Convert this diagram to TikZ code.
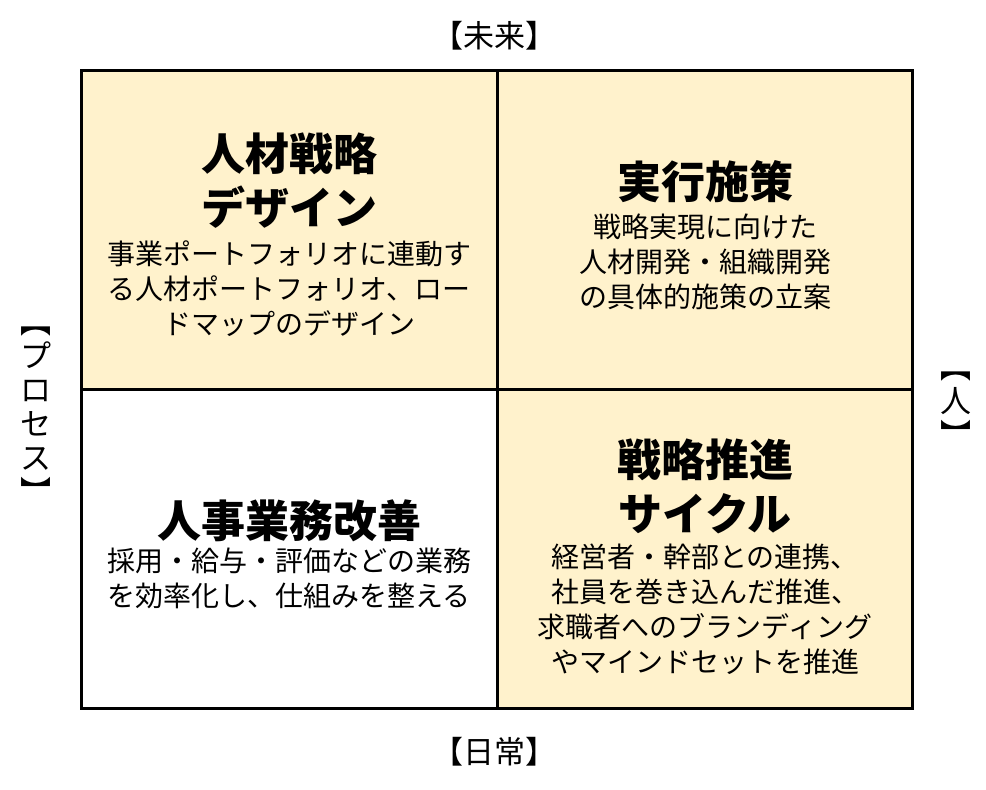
\documentclass[tikz,border=0pt]{standalone}
\usepackage{fontspec}
\setmainfont{Noto Sans CJK JP}
\definecolor{cellfill}{HTML}{FFF2CC}
\tikzset{
  cellbox/.style={fill=cellfill},
  grid/.style={line width=3pt},
  ttl/.style={font=\bfseries\fontsize{44}{54}\selectfont, align=center, inner sep=0pt},
  body/.style={font=\fontsize{28}{35}\selectfont, align=center, inner sep=0pt},
  axislbl/.style={font=\fontsize{31}{30}\selectfont, align=center, inner sep=0pt},
  vaxislbl/.style={axislbl, font=\fontsize{31}{34}\selectfont},
}
\begin{document}
\begin{tikzpicture}[x=1pt,y=-1pt]
\useasboundingbox (0,0) rectangle (986,790);
% cells
\fill[cellbox] (81,70) rectangle (497,389);
\fill[cellbox] (497,70) rectangle (912,389);
\fill[cellbox] (497,389) rectangle (912,708);
\draw[grid] (81,70) rectangle (912,708);
\draw[grid] (497,70) -- (497,708);
\draw[grid] (81,389) -- (912,389);
% top left
\node[ttl] (designttl) at (289,181) {人材戦略\\デザイン};
\node[body] (designtxt) at (289,289) {事業ポートフォリオに連動す\\る人材ポートフォリオ、ロー\\ドマップのデザイン};
% top right
\node[ttl] (planttl) at (705,182) {実行施策};
\node[body] (plantxt) at (705,262) {戦略実現に向けた\\人材開発・組織開発\\の具体的施策の立案};
% bottom left
\node[ttl] (opsttl) at (289,521) {人事業務改善};
\node[body] (opstxt) at (289,578) {採用・給与・評価などの業務\\を効率化し、仕組みを整える};
% bottom right
\node[ttl] (cyclettl) at (705,486) {戦略推進\\サイクル};
\node[body] (cycletxt) at (705,609) {経営者・幹部との連携、\\社員を巻き込んだ推進、\\求職者へのブランディング\\やマインドセットを推進};
% axes
\node[axislbl] (future) at (494,36) {【未来】};
\node[axislbl] (daily) at (494,752) {【日常】};
\node[vaxislbl] (process) at (36,415) {︻\\プ\\ロ\\セ\\ス\\︼};
\node[vaxislbl] (people) at (956,409) {︻\\人\\︼};
\end{tikzpicture}
\end{document}
